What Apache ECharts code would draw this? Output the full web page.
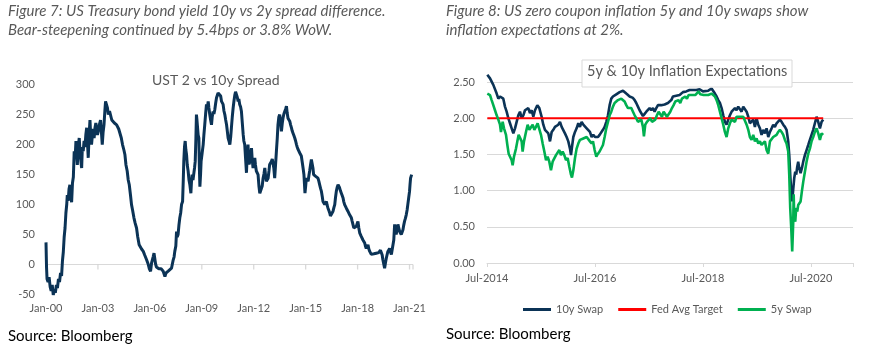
<!DOCTYPE html>
<html><head><meta charset="utf-8">
<script src="https://cdn.jsdelivr.net/npm/echarts@6/dist/echarts.min.js"></script>
<style>html,body{margin:0;padding:0;background:#fff}#c{width:875px;height:363px}</style>
</head><body><div id="c"></div>
<script>
// ---------- Texts ----------
const leftCaption = ['Figure 7: US Treasury bond yield 10y vs 2y spread difference.', 'Bear-steepening continued by 5.4bps or 3.8% WoW.'];
const rightCaption = ['Figure 8: US zero coupon inflation 5y and 10y swaps show', 'inflation expectations at 2%.'];
const leftTitle = 'UST 2 vs 10y Spread';
const rightTitle = '5y & 10y Inflation Expectations';
const sourceText = 'Source: Bloomberg';
const seriesNames = ['10y Swap', 'Fed Avg Target', '5y Swap'];

// ---------- Left chart: UST 2s10s spread (bps); x = years since Jan-2000 ----------
const leftTickStartYear = 2000;   // labels "Jan-YY"
const leftTickYears = [0, 3, 6, 9, 12, 15, 18, 21];
const leftAxisEnd = 21.2;
const spread = [
[0.00,36],[0.03,-5],[0.06,-25],[0.12,-30],[0.18,-22],[0.24,-38],[0.30,-45],[0.36,-35],[0.42,-52],[0.48,-42],[0.54,-48],[0.60,-35],[0.66,-40],[0.72,-25],[0.78,-30],[0.84,-15],[0.90,-20],[0.95,5],
[1.00,20],[1.05,45],[1.10,60],[1.15,85],[1.20,100],[1.23,115],[1.28,105],[1.33,125],[1.38,132],[1.43,115],[1.48,103],[1.53,135],[1.58,145],[1.63,188],[1.68,175],[1.73,205],[1.77,185],[1.81,165],[1.86,195],[1.92,210],[1.97,185],
[2.02,170],[2.06,160],[2.10,195],[2.15,188],[2.20,205],[2.25,195],[2.30,215],[2.35,227],[2.40,200],[2.44,177],[2.49,215],[2.54,240],[2.58,215],[2.63,199],[2.68,215],[2.73,225],[2.78,210],[2.83,227],[2.88,235],[2.92,235],[2.97,215],
[3.02,221],[3.08,232],[3.15,240],[3.20,220],[3.25,199],[3.30,220],[3.35,232],[3.40,255],[3.44,271],[3.50,274],[3.55,260],[3.60,249],[3.67,255],[3.73,254],[3.80,240],[3.88,243],[3.95,235],
[4.02,238],[4.08,232],[4.15,235],[4.20,225],[4.27,222],[4.35,210],[4.42,199],[4.50,190],[4.56,182],[4.62,165],[4.69,155],[4.75,140],[4.81,132],[4.88,115],[4.94,99],
[5.00,90],[5.08,77],[5.15,68],[5.23,60],[5.30,45],[5.38,32],[5.45,30],[5.52,25],[5.62,21],[5.70,15],[5.81,7],[5.90,0],[5.97,-8],
[6.04,-12],[6.10,2],[6.19,12],[6.24,18],[6.29,15],[6.33,0],[6.38,-5],[6.45,-3],[6.52,-8],[6.58,-5],[6.65,-8],[6.72,-10],[6.77,-12],[6.82,-15],[6.87,-21],[6.93,-15],
[7.00,-18],[7.06,-12],[7.15,-10],[7.25,-7],[7.30,0],[7.35,7],[7.40,12],[7.44,21],[7.50,30],[7.54,54],[7.58,45],[7.63,49],[7.68,65],[7.73,77],[7.78,85],[7.83,99],[7.89,104],[7.93,140],[7.96,171],
[8.00,195],[8.04,205],[8.08,190],[8.12,182],[8.16,165],[8.21,155],[8.26,140],[8.31,132],[8.37,118],[8.40,135],[8.44,149],[8.49,140],[8.54,143],[8.58,160],[8.62,171],[8.66,210],[8.69,249],[8.72,240],[8.75,238],[8.79,215],[8.83,210],[8.86,160],[8.89,129],[8.93,150],[8.96,171],
[9.02,185],[9.08,199],[9.12,215],[9.17,232],[9.22,250],[9.27,266],[9.32,260],[9.37,271],[9.41,260],[9.46,249],[9.51,240],[9.56,232],[9.60,245],[9.65,254],[9.70,250],[9.75,257],[9.80,268],[9.85,277],[9.90,280],[9.94,285],[9.99,283],
[10.04,287],[10.09,280],[10.14,271],[10.19,270],[10.23,266],[10.28,255],[10.33,249],[10.38,240],[10.43,232],[10.48,220],[10.52,210],[10.57,205],[10.62,199],[10.67,212],[10.71,227],[10.76,245],[10.81,260],[10.86,272],[10.91,282],[10.95,287],
[11.00,285],[11.05,278],[11.10,271],[11.14,275],[11.19,266],[11.24,262],[11.29,254],[11.34,235],[11.39,216],[11.43,205],[11.48,199],[11.53,175],[11.58,152],[11.62,180],[11.67,199],[11.70,175],[11.73,166],[11.77,170],[11.81,171],[11.84,185],[11.87,193],[11.91,175],[11.96,160],
[12.01,170],[12.06,177],[12.10,165],[12.15,155],[12.20,152],[12.25,149],[12.30,130],[12.35,118],[12.40,120],[12.44,115],[12.49,130],[12.54,143],[12.59,150],[12.64,160],[12.68,148],[12.73,138],[12.78,140],[12.83,143],[12.88,155],[12.92,166],[12.97,168],
[13.02,171],[13.07,175],[13.12,177],[13.16,160],[13.21,143],[13.26,165],[13.31,188],[13.36,210],[13.40,232],[13.45,245],[13.50,249],[13.55,238],[13.60,221],[13.65,235],[13.69,243],[13.74,250],[13.79,254],[13.84,258],[13.89,263],[13.93,252],[13.98,243],
[14.03,240],[14.08,238],[14.13,232],[14.18,227],[14.22,222],[14.27,218],[14.32,214],[14.37,210],[14.42,205],[14.47,199],[14.51,195],[14.56,191],[14.61,188],[14.66,185],[14.70,182],[14.75,180],[14.80,170],[14.85,160],[14.90,149],[14.96,118],
[15.00,130],[15.04,143],[15.09,140],[15.14,138],[15.19,148],[15.23,155],[15.28,165],[15.33,174],[15.39,177],[15.42,160],[15.46,149],[15.52,147],[15.58,146],[15.64,145],[15.71,143],[15.76,138],[15.81,132],[15.86,126],[15.91,121],[15.96,112],
[16.00,104],[16.05,101],[16.10,99],[16.15,101],[16.20,104],[16.24,98],[16.29,93],[16.34,89],[16.39,85],[16.43,80],[16.48,77],[16.53,82],[16.58,88],[16.63,94],[16.68,99],[16.72,110],[16.77,121],[16.82,128],[16.87,132],[16.92,130],[16.96,127],
[17.01,122],[17.06,118],[17.11,114],[17.16,110],[17.20,104],[17.25,99],[17.30,96],[17.35,93],[17.40,90],[17.44,88],[17.49,85],[17.54,82],[17.59,80],[17.64,77],[17.68,72],[17.73,66],[17.78,60],[17.83,57],[17.88,60],[17.93,63],[17.97,67],
[18.02,71],[18.07,60],[18.12,52],[18.16,49],[18.21,46],[18.26,43],[18.31,40],[18.36,38],[18.41,35],[18.45,30],[18.50,26],[18.55,29],[18.60,32],[18.65,25],[18.70,21],[18.74,18],[18.79,16],[18.84,17],[18.89,18],[18.94,17],[18.98,16],
[19.03,17],[19.08,18],[19.13,17],[19.17,16],[19.22,19],[19.27,21],[19.32,23],[19.37,24],[19.42,15],[19.46,7],[19.51,0],[19.56,-7],[19.61,2],[19.66,10],[19.70,15],[19.75,21],[19.80,24],[19.85,26],[19.90,20],[19.95,16],
[20.00,14],[20.04,13],[20.09,40],[20.14,66],[20.18,58],[20.23,49],[20.28,58],[20.33,66],[20.38,60],[20.43,54],[20.47,51],[20.52,49],[20.57,53],[20.62,57],[20.66,64],[20.71,71],[20.76,76],[20.81,82],[20.86,90],[20.90,99],[20.95,110],
[21.00,121],[21.03,133],[21.06,143],[21.10,147],[21.12,149]
];

// ---------- Right chart: inflation swaps (%); x = years since Jul-2014 ----------
const rightTickStartYear = 2014;  // labels "Jul-YYYY"
const swap10y = [
[0.006,2.60],[0.056,2.55],[0.117,2.46],[0.179,2.34],[0.21,2.27],[0.241,2.30],[0.302,2.27],[0.333,2.16],[0.364,2.09],[0.395,2.00],[0.426,1.93],[0.457,1.86],[0.488,1.79],[0.519,1.86],[0.549,1.95],[0.58,2.04],[0.611,2.09],[0.642,2.00],[0.673,2.04],[0.704,2.11],[0.735,2.09],[0.765,2.14],[0.796,2.07],[0.827,2.11],[0.858,2.02],[0.889,2.11],[0.932,2.18],[0.969,2.14],
[1.012,2.02],[1.043,1.91],[1.074,1.84],[1.105,1.86],[1.136,1.79],[1.167,1.68],[1.198,1.81],[1.228,1.84],[1.259,1.88],[1.29,1.86],[1.321,1.91],[1.352,1.95],[1.383,1.88],[1.414,1.86],[1.444,1.79],[1.475,1.74],[1.506,1.68],[1.537,1.58],[1.556,1.49],[1.574,1.60],[1.599,1.74],[1.63,1.81],[1.66,1.86],[1.691,1.93],[1.722,1.88],[1.753,1.95],[1.784,1.91],[1.815,1.93],[1.846,1.86],[1.877,1.88],[1.907,1.81],[1.938,1.74],[1.969,1.77],
[2.0,1.74],[2.031,1.72],[2.056,1.74],[2.086,1.77],[2.117,1.79],[2.148,1.84],[2.179,1.88],[2.21,1.95],[2.241,2.04],[2.272,2.18],[2.302,2.27],[2.333,2.30],[2.364,2.32],[2.395,2.33],[2.426,2.34],[2.457,2.36],[2.488,2.37],[2.519,2.38],[2.549,2.36],[2.58,2.34],[2.611,2.32],[2.642,2.30],[2.673,2.31],[2.704,2.28],[2.735,2.25],[2.765,2.21],[2.796,2.16],[2.827,2.11],[2.858,2.09],[2.889,2.03],[2.92,2.06],[2.951,2.09],[2.981,2.11],
[3.012,2.14],[3.043,2.11],[3.074,2.14],[3.105,2.09],[3.136,2.14],[3.167,2.18],[3.198,2.19],[3.228,2.18],[3.259,2.17],[3.29,2.19],[3.321,2.17],[3.352,2.21],[3.383,2.23],[3.414,2.25],[3.444,2.30],[3.475,2.32],[3.506,2.31],[3.537,2.33],[3.568,2.32],[3.599,2.34],[3.63,2.36],[3.66,2.34],[3.691,2.37],[3.722,2.38],[3.753,2.39],[3.784,2.40],[3.815,2.39],[3.846,2.41],[3.877,2.39],[3.907,2.38],[3.938,2.40],[3.969,2.39],
[4.0,2.37],[4.037,2.39],[4.099,2.38],[4.16,2.41],[4.19,2.39],[4.222,2.34],[4.253,2.30],[4.284,2.25],[4.315,2.21],[4.346,2.14],[4.377,2.04],[4.407,1.95],[4.438,1.91],[4.469,1.98],[4.5,2.04],[4.531,2.09],[4.562,2.11],[4.593,2.14],[4.623,2.11],[4.654,2.16],[4.685,2.14],[4.716,2.09],[4.747,2.16],[4.778,2.18],[4.809,2.09],[4.84,2.02],[4.87,1.93],[4.901,1.91],[4.932,1.98],[4.963,1.88],[4.994,2.00],
[5.025,1.91],[5.056,1.86],[5.086,1.77],[5.117,1.84],[5.148,1.79],[5.179,1.86],[5.21,1.74],[5.241,1.81],[5.272,1.86],[5.302,1.91],[5.333,1.88],[5.364,1.93],[5.395,1.95],[5.426,1.98],[5.457,1.95],[5.488,1.91],[5.519,1.88],[5.549,1.84],[5.58,1.68],[5.599,1.49],[5.617,1.22],[5.636,0.99],[5.654,0.85],[5.673,1.02],[5.691,1.17],[5.71,1.26],[5.728,1.22],[5.747,1.33],[5.765,1.40],[5.784,1.31],[5.809,1.24],[5.833,1.31],[5.858,1.40],[5.889,1.49],[5.92,1.56],[5.951,1.63],[5.981,1.70],
[6.012,1.77],[6.043,1.84],[6.074,1.93],[6.105,2.02],[6.136,1.95],[6.167,1.86],[6.198,1.95],[6.228,1.98]
];
const swap5y = [
[0.006,2.34],[0.056,2.32],[0.086,2.25],[0.117,2.18],[0.148,2.11],[0.179,2.04],[0.21,1.98],[0.241,1.91],[0.259,1.81],[0.29,1.95],[0.315,1.86],[0.352,1.77],[0.377,1.63],[0.401,1.51],[0.426,1.49],[0.457,1.42],[0.475,1.35],[0.5,1.47],[0.537,1.58],[0.562,1.68],[0.586,1.77],[0.611,1.79],[0.642,1.68],[0.66,1.54],[0.685,1.68],[0.722,1.81],[0.753,1.91],[0.784,1.84],[0.815,1.86],[0.846,1.91],[0.877,1.84],[0.907,1.88],[0.938,1.93],[0.969,1.91],
[1.0,1.77],[1.031,1.65],[1.062,1.54],[1.093,1.42],[1.123,1.47],[1.154,1.40],[1.185,1.28],[1.216,1.40],[1.247,1.42],[1.278,1.49],[1.309,1.51],[1.34,1.56],[1.37,1.49],[1.401,1.54],[1.432,1.49],[1.463,1.42],[1.494,1.45],[1.525,1.33],[1.556,1.22],[1.574,1.18],[1.599,1.28],[1.63,1.45],[1.66,1.58],[1.691,1.65],[1.722,1.70],[1.753,1.68],[1.784,1.72],[1.815,1.70],[1.846,1.74],[1.877,1.72],[1.907,1.68],[1.938,1.65],
[1.963,1.68],[1.994,1.56],[2.025,1.47],[2.056,1.51],[2.086,1.54],[2.117,1.56],[2.148,1.63],[2.179,1.74],[2.21,1.86],[2.241,1.95],[2.272,2.04],[2.302,2.09],[2.333,2.16],[2.364,2.21],[2.395,2.23],[2.426,2.25],[2.457,2.23],[2.488,2.27],[2.519,2.25],[2.549,2.23],[2.58,2.18],[2.611,2.14],[2.642,2.16],[2.673,2.14],[2.704,2.09],[2.735,2.04],[2.765,2.00],[2.796,1.95],[2.827,1.93],[2.858,1.98],[2.889,1.88],[2.907,1.75],[2.932,1.91],[2.963,1.95],[2.994,1.93],
[3.025,2.00],[3.056,1.95],[3.086,1.93],[3.117,1.98],[3.148,2.04],[3.179,2.09],[3.21,2.07],[3.241,2.02],[3.272,2.09],[3.302,2.07],[3.333,2.02],[3.364,2.04],[3.395,2.09],[3.426,2.14],[3.457,2.18],[3.488,2.23],[3.519,2.21],[3.549,2.25],[3.58,2.21],[3.611,2.27],[3.642,2.25],[3.673,2.30],[3.704,2.27],[3.735,2.32],[3.765,2.30],[3.796,2.32],[3.827,2.34],[3.858,2.32],[3.889,2.34],[3.92,2.37],[3.951,2.33],[3.981,2.34],
[4.012,2.32],[4.043,2.30],[4.099,2.32],[4.16,2.34],[4.222,2.30],[4.253,2.25],[4.284,2.18],[4.315,2.09],[4.346,2.00],[4.377,1.91],[4.407,1.81],[4.438,1.74],[4.469,1.86],[4.5,1.93],[4.531,1.98],[4.562,2.00],[4.593,1.95],[4.623,2.02],[4.654,2.00],[4.685,2.02],[4.716,2.04],[4.747,2.02],[4.778,2.00],[4.809,1.91],[4.84,1.84],[4.87,1.74],[4.901,1.70],[4.932,1.77],[4.963,1.68],[4.994,1.72],
[5.025,1.65],[5.056,1.68],[5.086,1.63],[5.117,1.61],[5.148,1.68],[5.179,1.56],[5.21,1.51],[5.241,1.68],[5.272,1.70],[5.302,1.74],[5.333,1.72],[5.364,1.77],[5.395,1.81],[5.426,1.84],[5.457,1.81],[5.488,1.77],[5.519,1.70],[5.549,1.65],[5.58,1.54],[5.599,1.22],[5.617,0.76],[5.636,0.48],[5.654,0.16],[5.673,0.57],[5.681,0.95],[5.691,0.66],[5.71,0.57],[5.728,0.76],[5.747,0.71],[5.765,0.80],[5.784,0.78],[5.809,0.85],[5.833,0.99],[5.858,1.12],[5.889,1.26],[5.92,1.40],[5.951,1.51],[5.981,1.58],
[6.012,1.68],[6.043,1.74],[6.074,1.81],[6.105,1.86],[6.136,1.79],[6.167,1.70],[6.198,1.79],[6.228,1.77]
];
const fedTarget = [[0.006,2.0],[6.228,2.0]];

// ---------- Styles ----------
const FONT = 'Lato, "Liberation Sans", sans-serif';
const GRAY = '#595959';
const GRID_LINE = '#d9d9d9';
const NONE = 'rgba(0,0,0,0)';
const NAVY = '#0b3356';
const GREEN = '#00b050';
const RED = '#ff0000';

const chart = echarts.init(document.getElementById('c'), null, {renderer: 'canvas'});

function capText(x, y, t, italic, color, size) {
  return {type: 'text', left: x, top: y, z: 20, style: {text: t, fill: color, font: (italic ? 'italic ' : '') + size + 'px ' + FONT}};
}

const option = {
  animation: false,
  backgroundColor: '#fff',
  textStyle: {fontFamily: FONT},
  grid: [
    {left: 46, top: 84, width: 367, height: 210, outerBoundsMode: 'none'},
    {left: 487, top: 82, width: 366, height: 181, outerBoundsMode: 'none'}
  ],
  xAxis: [
    {type: 'value', gridIndex: 0, min: 0, max: leftAxisEnd, interval: 3, position: 'bottom',
     axisLine: {show: false, onZero: false}, axisTick: {show: false}, splitLine: {show: false},
     axisLabel: {margin: 9, color: GRAY, fontSize: 11, fontFamily: FONT,
       formatter: v => (Math.abs(v % 3) < 1e-6) ? 'Jan-' + String((leftTickStartYear + Math.round(v)) % 100).padStart(2, '0') : ''}},
    {type: 'value', gridIndex: 1, min: 0, max: 6.78, interval: 2, position: 'bottom',
     axisLine: {show: true, onZero: false, lineStyle: {color: GRID_LINE, width: 1}},
     axisTick: {show: true, length: 4, lineStyle: {color: GRID_LINE}}, splitLine: {show: false},
     axisLabel: {margin: 10, color: GRAY, fontSize: 11, fontFamily: FONT,
       formatter: v => (Math.abs(v % 2) < 1e-6) ? 'Jul-' + (rightTickStartYear + Math.round(v)) : ''}}
  ],
  yAxis: [
    {type: 'value', gridIndex: 0, min: -50, max: 300, interval: 50,
     axisLine: {show: false}, axisTick: {show: false},
     // only the zero line is visible (second tick: -50, 0, 50, ...)
     splitLine: {show: true, lineStyle: {width: 1, color: [NONE, GRID_LINE, NONE, NONE, NONE, NONE, NONE, NONE]}},
     axisLabel: {margin: 11, color: GRAY, fontSize: 11, fontFamily: FONT}},
    {type: 'value', gridIndex: 1, min: 0, max: 2.5, interval: 0.5,
     axisLine: {show: false}, axisTick: {show: false},
     splitLine: {show: true, lineStyle: {color: GRID_LINE, width: 1}},
     axisLabel: {margin: 12, color: GRAY, fontSize: 11, fontFamily: FONT, formatter: v => v.toFixed(2)}}
  ],
  legend: {
    left: 518, top: 299, icon: 'rect', itemWidth: 28, itemHeight: 3, itemGap: 15,
    textStyle: {color: GRAY, fontSize: 11, fontFamily: FONT},
    data: seriesNames
  },
  series: [
    // tick marks under the zero baseline of the left chart
    {type: 'scatter', name: 'ticks', xAxisIndex: 0, yAxisIndex: 0, data: leftTickYears.concat([leftAxisEnd]).map(t => [t, 0]),
     symbol: 'rect', symbolSize: [1.3, 5], symbolOffset: [0, 3], itemStyle: {color: '#cfcfcf'}, silent: true, z: 1},
    {type: 'line', name: 'UST 2s10s', xAxisIndex: 0, yAxisIndex: 0, data: spread, symbol: 'none', showSymbol: false,
     lineStyle: {color: NAVY, width: 3}, itemStyle: {color: NAVY}, silent: true, z: 3},
    {type: 'line', name: seriesNames[0], xAxisIndex: 1, yAxisIndex: 1, data: swap10y, symbol: 'none', showSymbol: false, clip: false,
     lineStyle: {color: NAVY, width: 2.6}, itemStyle: {color: NAVY}, silent: true},
    {type: 'line', name: seriesNames[1], xAxisIndex: 1, yAxisIndex: 1, data: fedTarget, symbol: 'none', showSymbol: false,
     lineStyle: {color: RED, width: 2}, itemStyle: {color: RED}, silent: true},
    {type: 'line', name: seriesNames[2], xAxisIndex: 1, yAxisIndex: 1, data: swap5y, symbol: 'none', showSymbol: false, clip: false,
     lineStyle: {color: GREEN, width: 2.6}, itemStyle: {color: GREEN}, silent: true}
  ],
  graphic: [
    capText(8, 4, leftCaption[0], true, GRAY, 15),
    capText(8, 23, leftCaption[1], true, GRAY, 15),
    capText(446, 4, rightCaption[0], true, GRAY, 15),
    capText(446, 23, rightCaption[1], true, GRAY, 15),
    {type: 'text', z: 20, left: 152, top: 73, style: {text: leftTitle, fill: GRAY, font: '14px ' + FONT}},
    {type: 'rect', z: 15, shape: {x: 582, y: 60, width: 210, height: 27}, style: {fill: '#fff', stroke: GRID_LINE, lineWidth: 1}},
    {type: 'text', z: 20, left: 587, top: 64, style: {text: rightTitle, fill: GRAY, font: '14.5px ' + FONT}},
    capText(8, 329, sourceText, false, '#000', 15),
    capText(446, 327, sourceText, false, '#000', 15)
  ]
};
chart.setOption(option);
</script></body></html>
